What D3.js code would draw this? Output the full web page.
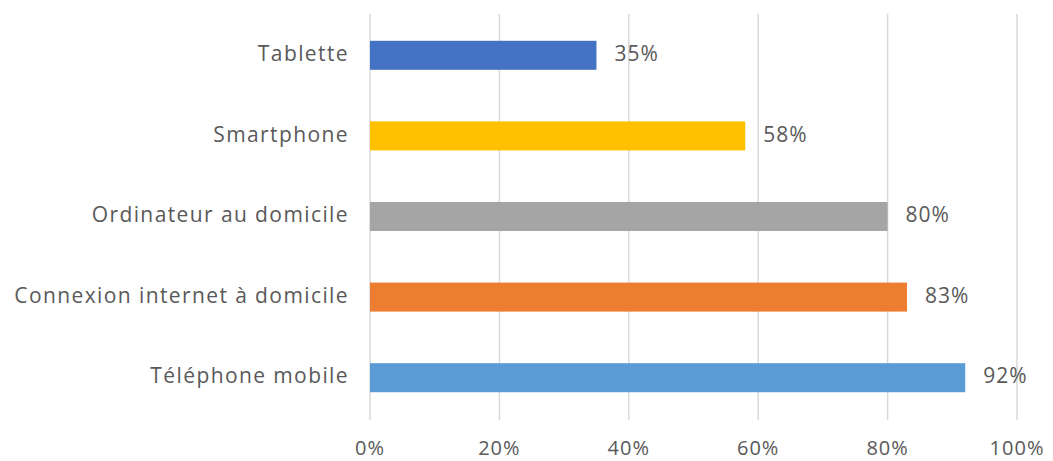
<!DOCTYPE html>
<html><head><meta charset="utf-8">
<script src="https://cdn.jsdelivr.net/npm/d3@7"></script>
<style>body{margin:0;background:#fff}svg{display:block}text{font-family:"Open Sans",sans-serif;fill:#595959}</style>
</head><body><svg id="c" width="1053" height="461"></svg>
<script>
const categories = ["Tablette","Smartphone","Ordinateur au domicile","Connexion internet à domicile","Téléphone mobile"];
const values = [35, 58, 80, 83, 92];
const colors = ["#4472C4","#FFC000","#A5A5A5","#ED7D31","#5B9BD5"];
const ticks = [0,20,40,60,80,100];

const svg = d3.select("#c");
const m = {left:370, right:1017, top:15, bottom:418};
const x = d3.scaleLinear().domain([0,100]).range([m.left, m.right]);
const y = d3.scaleBand().domain(categories).range([m.top, m.bottom]).paddingInner(0.64).paddingOuter(0.32);

svg.append("g").selectAll("line").data(ticks).join("line")
  .attr("x1",d=>x(d)).attr("x2",d=>x(d)).attr("y1",m.top-1).attr("y2",m.bottom+2)
  .attr("stroke","#d9d9d9").attr("stroke-width",1.5);

svg.append("g").selectAll("text").data(ticks).join("text")
  .attr("x",d=>x(d)).attr("y",455).attr("text-anchor","middle")
  .attr("font-size",20).attr("letter-spacing",1).text(d=>d+"%");

svg.append("g").selectAll("rect").data(categories).join("rect")
  .attr("x",x(0)).attr("y",d=>y(d)).attr("height",y.bandwidth())
  .attr("width",(d,i)=>x(values[i])-x(0)).attr("fill",(d,i)=>colors[i]);

svg.append("g").selectAll("text").data(categories).join("text")
  .attr("x",m.left-21).attr("y",d=>y(d)+y.bandwidth()/2).attr("text-anchor","end").attr("dominant-baseline","middle")
  .attr("font-size",21).attr("letter-spacing",1.4).text(d=>d);

svg.append("g").selectAll("text").data(categories).join("text")
  .attr("x",(d,i)=>x(values[i])+18).attr("y",d=>y(d)+y.bandwidth()/2).attr("dominant-baseline","middle")
  .attr("font-size",21).attr("letter-spacing",1).text((d,i)=>values[i]+"%");
</script></body></html>
